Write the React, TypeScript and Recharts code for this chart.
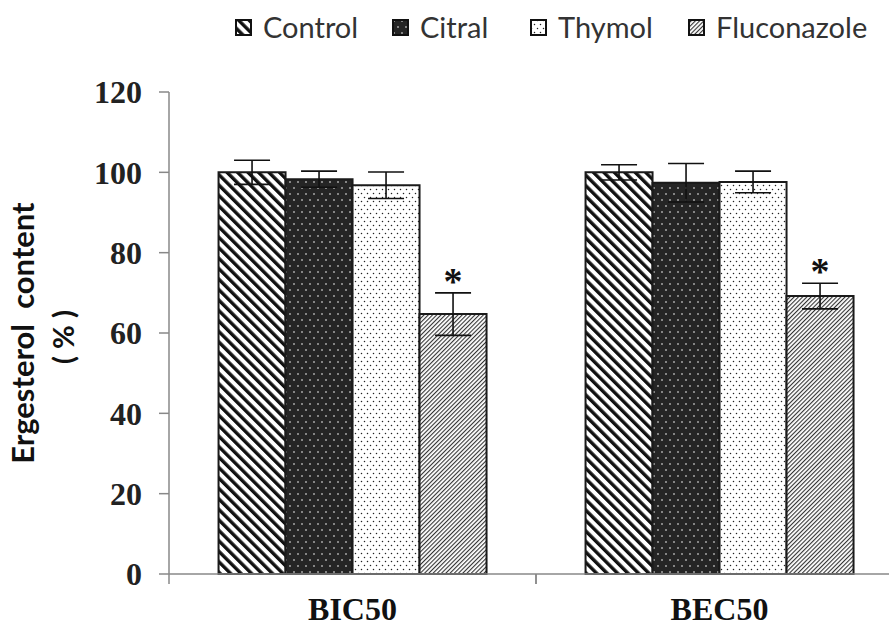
import React from "react"
import {
    ComposedChart, Bar, XAxis, YAxis, ErrorBar, LabelList,
} from "recharts"

// values (ergosterol content, % of control)
const categories = ["BIC50", "BEC50"]
const control = [100, 100]
const controlErr = [3, 1.9]
const citral = [98.3, 97.4]
const citralErr = [2, 4.8]
const thymol = [96.8, 97.6]
const thymolErr = [3.3, 2.7]
const fluconazole = [64.7, 69.2]
const fluconazoleErr = [5.3, 3.2]
const significant = ["*", "*"]
const yTicks = [0, 20, 40, 60, 80, 100, 120]

const data = categories.map((name, i) => ({
    name,
    control: control[i],
    controlErr: controlErr[i],
    citral: citral[i],
    citralErr: citralErr[i],
    thymol: thymol[i],
    thymolErr: thymolErr[i],
    fluconazole: fluconazole[i],
    fluconazoleErr: fluconazoleErr[i],
    star: significant[i],
}))

const series = [
    { key: "control", label: "Control", fill: "url(#pControl)" },
    { key: "citral", label: "Citral", fill: "url(#pCitral)" },
    { key: "thymol", label: "Thymol", fill: "url(#pThymol)" },
    { key: "fluconazole", label: "Fluconazole", fill: "url(#pFluconazole)" },
]

const W = 905
const H = 627
const M = { top: 92, right: 2, bottom: 0, left: 0 }
const Y_AXIS_W = 169
const X_AXIS_H = 53
const PLOT_W = W - M.left - M.right - Y_AXIS_W
const PLOT_H = H - M.top - M.bottom - X_AXIS_H
const CAT_W = PLOT_W / categories.length
const PX_PER_UNIT = PLOT_H / 120

const serif = "'Liberation Serif', 'Times New Roman', serif"
const sans = "Lato, 'Open Sans', sans-serif"

// legend item left edges (the original spacing is uneven)
const LEGEND_LEFT = [235, 392, 530, 688]

function XTick(props: any) {
    const { x, y, payload } = props
    const half = CAT_W / 2
    return (
        <g>
            <line x1={x - half} x2={x - half} y1={y} y2={y + 10} stroke="#888" strokeWidth={1.5} />
            <line x1={x + half} x2={x + half} y1={y} y2={y + 10} stroke="#888" strokeWidth={1.5} />
            <text x={x} y={y + 46} textAnchor="middle" fontFamily={serif} fontWeight="bold" fontSize={32} fill="#111">
                {payload.value}
            </text>
        </g>
    )
}

function Star(props: any) {
    const { x, y, width, index, value } = props
    const errTop = y - fluconazoleErr[index] * PX_PER_UNIT
    return (
        <text x={x + width / 2} y={errTop + 1} textAnchor="middle" fontFamily={serif} fontWeight="bold" fontSize={38} fill="#111">
            {value}
        </text>
    )
}

function LegendBox() {
    return (
        <div style={{ fontFamily: sans, fontSize: 29, color: "#333", lineHeight: "36px" }}>
            {series.map((s, i) => (
                <div key={s.key} style={{ position: "absolute", top: 9, left: LEGEND_LEFT[i], display: "flex", alignItems: "center", whiteSpace: "nowrap" }}>
                    <svg width={17} height={17} style={{ marginRight: 11 }}>
                        <rect x={1} y={1} width={15} height={15} fill={s.fill} stroke="#111" strokeWidth={2} />
                    </svg>
                    <span>{s.label}</span>
                </div>
            ))}
        </div>
    )
}

export default function App() {
    return (
        <div style={{ position: "fixed", left: 0, top: 0, width: 889, height: 627, overflow: "hidden", background: "#fff" }}>
            <ComposedChart width={W} height={H} data={data} margin={M} barGap={0} barCategoryGap="13.5%">
                <defs>
                    <pattern id="pControl" width={7.4} height={7.4} patternUnits="userSpaceOnUse" patternTransform="rotate(-45)">
                        <rect width={7.4} height={7.4} fill="#fff" />
                        <rect width={3.4} height={7.4} fill="#111" />
                    </pattern>
                    <pattern id="pCitral" width={8} height={12} patternUnits="userSpaceOnUse">
                        <rect width={8} height={12} fill="#252525" />
                        <circle cx={2} cy={2} r={0.8} fill="#fff" />
                        <circle cx={6} cy={8} r={0.8} fill="#fff" />
                    </pattern>
                    <pattern id="pThymol" width={6} height={8} patternUnits="userSpaceOnUse">
                        <rect width={6} height={8} fill="#fff" />
                        <circle cx={1.5} cy={1.5} r={0.75} fill="#222" />
                        <circle cx={4.5} cy={5.5} r={0.75} fill="#222" />
                    </pattern>
                    <pattern id="pFluconazole" width={3} height={3} patternUnits="userSpaceOnUse" patternTransform="rotate(45)">
                        <rect width={3} height={3} fill="#fff" />
                        <rect width={1.1} height={3} fill="#333" />
                    </pattern>
                </defs>
                <XAxis
                    dataKey="name"
                    height={X_AXIS_H}
                    axisLine={{ stroke: "#888", strokeWidth: 1.5 }}
                    tickLine={false}
                    tickSize={0}
                    tickMargin={0}
                    tick={<XTick />}
                    interval={0}
                />
                <YAxis
                    width={Y_AXIS_W}
                    domain={[0, 120]}
                    ticks={yTicks}
                    axisLine={{ stroke: "#888", strokeWidth: 1.5 }}
                    tickLine={{ stroke: "#888", strokeWidth: 1.5 }}
                    tickSize={10}
                    tickMargin={17}
                    tick={{ fontFamily: serif, fontWeight: "bold", fontSize: 32, fill: "#222" }}
                />
                {series.map((s) => (
                    <Bar
                        key={s.key}
                        dataKey={s.key}
                        fill={s.fill}
                        stroke="#1a1a1a"
                        strokeWidth={2}
                        isAnimationActive={false}
                    >
                        <ErrorBar dataKey={`${s.key}Err`} width={18} stroke="#111" strokeWidth={1.6} />
                        {s.key === "fluconazole" && <LabelList dataKey="star" content={<Star />} />}
                    </Bar>
                ))}
            </ComposedChart>
            <LegendBox />
            <svg width={100} height={627} style={{ position: "absolute", left: 0, top: 0 }}>
                <text
                    transform="translate(34,333) rotate(-90)"
                    textAnchor="middle"
                    fontFamily={sans}
                    fontWeight="bold"
                    fontSize={31}
                    fill="#111"
                    style={{ whiteSpace: "pre" }}
                >
                    {"Ergesterol  content"}
                </text>
                <text
                    transform="translate(74,337) rotate(-90)"
                    textAnchor="middle"
                    fontFamily={sans}
                    fontWeight="bold"
                    fontSize={29}
                    fill="#111"
                    style={{ whiteSpace: "pre" }}
                >
                    {"( % )"}
                </text>
            </svg>
        </div>
    )
}
